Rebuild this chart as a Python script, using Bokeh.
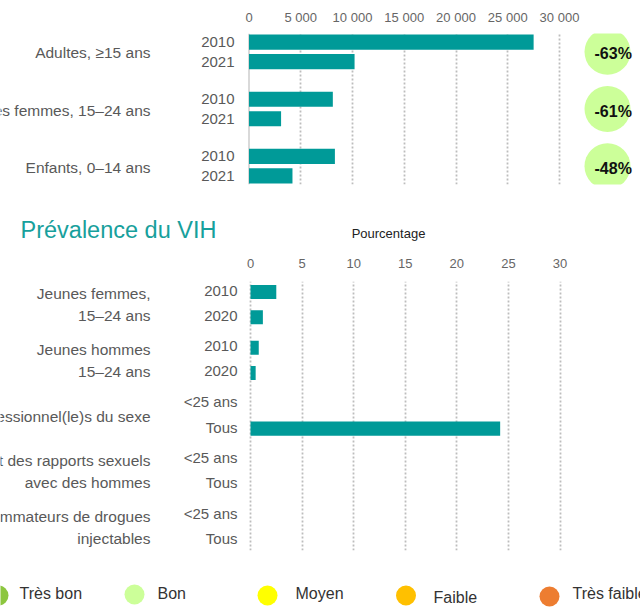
import math
from bokeh.plotting import figure
from bokeh.models import ColumnDataSource, FactorRange, Range1d, FixedTicker, Span
from bokeh.layouts import column
from bokeh.embed import file_html
from bokeh.resources import INLINE
from bokeh.core.properties import value

NAN = float("nan")

# ---------------- data: new HIV infections (top chart) ----------------
inf_groups = ["Adultes, ≥15 ans", "Jeunes femmes, 15–24 ans", "Enfants, 0–14 ans"]
inf_years = ["2010", "2021"]
inf_2010 = [27500, 8100, 8300]
inf_2021 = [10200, 3100, 4200]
inf_change = ["-63%", "-61%", "-48%"]
inf_ticks = [0, 5000, 10000, 15000, 20000, 25000, 30000]
inf_tick_labels = ["0", "5 000", "10 000", "15 000", "20 000", "25 000", "30 000"]

# ---------------- data: HIV prevalence (bottom chart) ----------------
prev_title = "Prévalence du VIH"
prev_axis_title = "Pourcentage"
prev_groups = [
    "Jeunes femmes,\n15–24 ans",
    "Jeunes hommes\n15–24 ans",
    "Professionnel(le)s du sexe",
    "Hommes ayant des rapports sexuels\navec des hommes",
    "Consommateurs de drogues\ninjectables",
]
prev_sub = [["2010", "2020"], ["2010", "2020"], ["<25 ans", "Tous"],
            ["<25 ans", "Tous"], ["<25 ans", "Tous"]]
prev_values = [[2.5, 1.2], [0.8, 0.5], [NAN, 24.2], [NAN, NAN], [NAN, NAN]]
prev_ticks = [0, 5, 10, 15, 20, 25, 30]
prev_tick_labels = ["0", "5", "10", "15", "20", "25", "30"]

# ---------------- legend ----------------
legend_labels = ["Très bon", "Bon", "Moyen", "Faible", "Très faible"]
legend_colors = ["#8cc63f", "#ccff99", "#ffff00", "#ffc000", "#ed7d31"]
badge_color = "#ccff99"

# ---------------- styles / layout ----------------
FONT = value("Liberation Sans")
BAR = "#009a98"
TEXT = "#595959"
TICK = "#666666"
GRID = "#bdbdbd"
W = 640


def xr(zero_px, px_per_unit):
    start = -zero_px / px_per_unit
    return Range1d(start, start + W / px_per_unit)


def px_to_data(px, zero_px, px_per_unit):
    return (px - zero_px) / px_per_unit


def base_fig(height, x_range, y_range, top, bottom, axis_above=True):
    p = figure(width=W, height=height, x_range=x_range, y_range=y_range,
               x_axis_location="above" if axis_above else None,
               y_axis_location=None, toolbar_location=None,
               output_backend="svg", min_border_top=top,
               min_border_bottom=bottom, min_border_left=0,
               min_border_right=0, outline_line_color=None,
               background_fill_color="white", border_fill_color="white")
    return p


def style_axis(p, ticks, labels, standoff):
    ax = p.xaxis[0]
    ax.ticker = FixedTicker(ticks=ticks)
    ax.major_label_overrides = {t: l for t, l in zip(ticks, labels)}
    ax.axis_line_color = None
    ax.major_tick_line_color = None
    ax.minor_tick_line_color = None
    ax.major_tick_out = 0
    ax.major_tick_in = 0
    ax.major_label_standoff = standoff
    ax.major_label_text_font = "Liberation Sans"
    ax.major_label_text_font_size = "13px"
    ax.major_label_text_color = TICK
    p.ygrid.visible = False
    p.xgrid.grid_line_color = GRID
    p.xgrid.grid_line_dash = "2 2"
    p.xgrid.grid_line_width = 1.8


# ================= Top chart =================
A_ZERO, A_PPU = 248.5, 310.5 / 30000
factorsA = [(g, y) for g in reversed(inf_groups) for y in reversed(inf_years)]
pA = base_fig(195, xr(A_ZERO, A_PPU),
              FactorRange(*factorsA, factor_padding=0.132, group_padding=1.19,
                          range_padding=0), 33, 11)
style_axis(pA, inf_ticks, inf_tick_labels, 9)
pA.xgrid.ticker = FixedTicker(ticks=inf_ticks[1:])
pA.add_layout(Span(location=0, dimension="height", line_color="#d9d9d9",
                   line_width=2, level="underlay"))

ys, vals, yrs = [], [], []
for g, a, b in zip(inf_groups, inf_2010, inf_2021):
    for y, v in zip(inf_years, (a, b)):
        ys.append((g, y)); vals.append(v); yrs.append(y)
srcA = ColumnDataSource(dict(y=ys, right=vals, zero=[0] * len(ys), yr=yrs))
pA.hbar(y="y", left="zero", right="right", height=0.88, source=srcA,
        fill_color=BAR, line_color=None)
pA.text(x="zero", y="y", text="yr", source=srcA, x_offset=-14.5,
        text_align="right", text_baseline="middle", text_font=FONT,
        text_font_size=value("15px"), text_color=TEXT)
srcAg = ColumnDataSource(dict(y=inf_groups, zero=[0] * 3, t=inf_groups,
                              bx=[px_to_data(607, A_ZERO, A_PPU)] * 3,
                              tx=[px_to_data(594, A_ZERO, A_PPU)] * 3,
                              c=inf_change))
pA.text(x="zero", y="y", text="t", source=srcAg, x_offset=-98.5, y_offset=1,
        text_align="right", text_baseline="middle", text_font=FONT,
        text_font_size=value("15.5px"), text_color=TEXT)
pA.scatter(x="bx", y="y", source=srcAg, size=46, fill_color=badge_color,
           line_color=None)
pA.text(x="tx", y="y", text="c", source=srcAg, y_offset=2, text_align="left",
        text_baseline="middle", text_font=FONT, text_font_style="bold",
        text_font_size=value("16px"), text_color="#111111")

# ================= Title strip =================
pT = base_fig(50, Range1d(0, W), Range1d(50, 0), 0, 0, axis_above=False)
pT.grid.visible = False
pT.text(x=[20], y=[34], text=[prev_title], text_align="left",
        text_baseline="middle", text_font=FONT,
        text_font_size=value("23.5px"), text_color="#17a09c")
pT.text(x=[388], y=[38], text=[prev_axis_title], text_align="center",
        text_baseline="middle", text_font=FONT,
        text_font_size=value("13px"), text_color="#222222")

# ================= Bottom chart =================
B_ZERO, B_PPU = 250, 309.5 / 30
factorsB = [(g, s) for g, subs in reversed(list(zip(prev_groups, prev_sub)))
            for s in reversed(subs)]
pB = base_fig(315, xr(B_ZERO, B_PPU),
              FactorRange(*factorsB, factor_padding=0.2, group_padding=0.448,
                          range_padding=0), 36, 10)
style_axis(pB, prev_ticks, prev_tick_labels, 14)

ys, vals, subs_t = [], [], []
for g, subs, vs in zip(prev_groups, prev_sub, prev_values):
    for s, v in zip(subs, vs):
        ys.append((g, s)); vals.append(v); subs_t.append(s)
srcB = ColumnDataSource(dict(y=ys, right=vals, zero=[0] * len(ys), s=subs_t))
pB.hbar(y="y", left="zero", right="right", height=0.67, source=srcB,
        fill_color=BAR, line_color=None)
pB.text(x="zero", y="y", text="s", source=srcB, x_offset=-13, y_offset=-1.5,
        text_align="right", text_baseline="middle", text_font=FONT,
        text_font_size=value("15px"), text_color=TEXT)
srcBg = ColumnDataSource(dict(y=prev_groups, zero=[0] * len(prev_groups),
                              t=prev_groups))
pB.text(x="zero", y="y", text="t", source=srcBg, x_offset=-100,
        text_align="right", text_baseline="middle", text_font=FONT,
        text_font_size=value("15.5px"), text_color=TEXT, text_line_height=1.32)

# ================= Legend =================
leg_cx = [-2, 134, 267, 405.5, 549]
leg_cy = [35, 34, 35, 35, 36]
leg_tx = [19, 157, 295, 433, 572]
leg_ty = [33, 33, 33, 37, 33]
pL = base_fig(47, Range1d(0, W), Range1d(47, 0), 0, 0, axis_above=False)
pL.grid.visible = False
pL.scatter(x=leg_cx, y=leg_cy, size=20, fill_color=legend_colors,
           line_color=None)
pL.text(x=leg_tx, y=leg_ty, text=legend_labels, text_align="left",
        text_baseline="middle", text_font=FONT,
        text_font_size=value("16px"), text_color="#333333")

layout = column(pA, pT, pB, pL, spacing=0)
open("out.html", "w").write(file_html(layout, INLINE))
